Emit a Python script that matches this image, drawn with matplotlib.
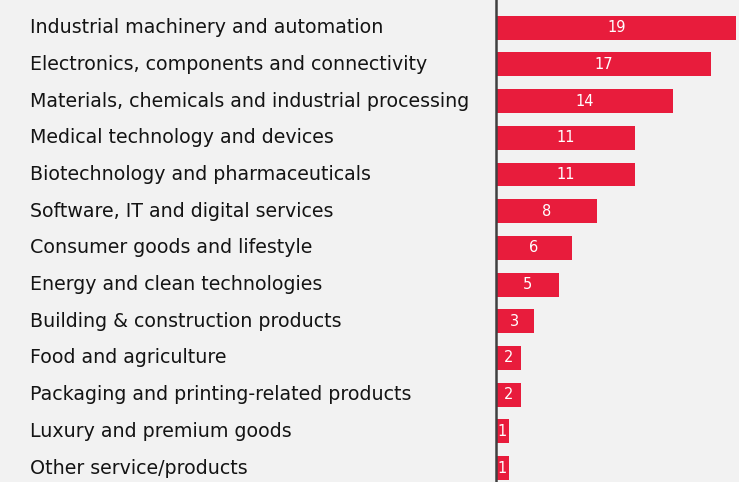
import matplotlib
matplotlib.use("Agg")
import matplotlib.pyplot as plt

categories = [
    "Industrial machinery and automation",
    "Electronics, components and connectivity",
    "Materials, chemicals and industrial processing",
    "Medical technology and devices",
    "Biotechnology and pharmaceuticals",
    "Software, IT and digital services",
    "Consumer goods and lifestyle",
    "Energy and clean technologies",
    "Building & construction products",
    "Food and agriculture",
    "Packaging and printing-related products",
    "Luxury and premium goods",
    "Other service/products",
]
values = [19, 17, 14, 11, 11, 8, 6, 5, 3, 2, 2, 1, 1]

BG = "#f2f2f2"
RED = "#e81c3c"

fig = plt.figure(figsize=(7.39, 4.82), dpi=100, facecolor=BG)
ax = fig.add_axes([496/739, 0, (739-496)/739, 1])
ax.set_facecolor(BG)

pos = list(range(len(categories)))
ax.barh(pos, values, height=0.65, color=RED, left=0)
ax.set_xlim(0, 19.2)
ax.set_ylim(len(categories) - 1 + 0.38, -0.755)

for p, v in zip(pos, values):
    ax.text(v / 2, p, str(v), ha="center", va="center", color="white", fontsize=10.5)

for p, c in zip(pos, categories):
    y_disp = ax.transData.transform((0, p))[1]
    fig.text(30/739, y_disp/482, c, ha="left", va="center", fontsize=13.7, color="#141414")

for s in ["top", "right", "bottom"]:
    ax.spines[s].set_visible(False)
ax.spines["left"].set_color("#404040")
ax.spines["left"].set_linewidth(1.8)
ax.set_xticks([])
ax.set_yticks([])

fig.savefig("out.png", dpi=100, facecolor=BG)
